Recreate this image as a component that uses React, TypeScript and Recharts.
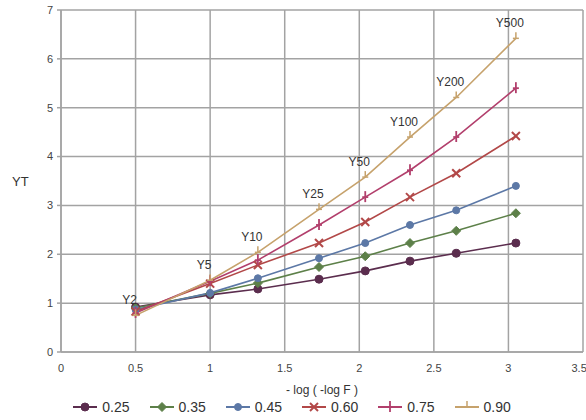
import { LineChart, Line, XAxis, YAxis, CartesianGrid, Legend, LabelList } from "recharts"

// -log(-log F) position of each return period
const xVals = [0.5, 1.0, 1.32, 1.73, 2.04, 2.34, 2.65, 3.05]
const periodLabels = ["Y2", "Y5", "Y10", "Y25", "Y50", "Y100", "Y200", "Y500"]

// YT for each skew coefficient
const s025 = [0.92, 1.17, 1.29, 1.49, 1.66, 1.86, 2.02, 2.23]
const s035 = [0.9, 1.2, 1.41, 1.74, 1.96, 2.23, 2.48, 2.84]
const s045 = [0.87, 1.21, 1.51, 1.92, 2.23, 2.6, 2.9, 3.4]
const s060 = [0.83, 1.4, 1.78, 2.23, 2.66, 3.17, 3.66, 4.42]
const s075 = [0.8, 1.45, 1.88, 2.6, 3.17, 3.72, 4.4, 5.4]
const s090 = [0.75, 1.47, 2.04, 2.92, 3.58, 4.4, 5.21, 6.42]

const xTicks = [0, 0.5, 1, 1.5, 2, 2.5, 3, 3.5]
const yTicks = [0, 1, 2, 3, 4, 5, 6, 7]

const data = xVals.map((x, i) => ({
  x,
  label: periodLabels[i],
  s025: s025[i],
  s035: s035[i],
  s045: s045[i],
  s060: s060[i],
  s075: s075[i],
  s090: s090[i],
}))

const SERIES = [
  { key: "s025", name: "0.25", color: "#5b2d4e", marker: "circle" },
  { key: "s035", name: "0.35", color: "#5d8049", marker: "diamond" },
  { key: "s045", name: "0.45", color: "#5c78a6", marker: "dot" },
  { key: "s060", name: "0.60", color: "#b24848", marker: "star" },
  { key: "s075", name: "0.75", color: "#b23f6c", marker: "plus" },
  { key: "s090", name: "0.90", color: "#c6a26c", marker: "tick" },
]

const FONT = '"Liberation Sans", Arial, Helvetica, sans-serif'
const GRID = "#a3a3a3"

function Marker({ kind, cx, cy, color }: { kind: string; cx: number; cy: number; color: string }) {
  if (kind === "circle") return <circle cx={cx} cy={cy} r={4} fill={color} stroke={color} />
  if (kind === "dot") return <circle cx={cx} cy={cy} r={3.5} fill={color} stroke={color} />
  if (kind === "diamond")
    return (
      <polygon
        points={`${cx},${cy - 4.5} ${cx + 4.5},${cy} ${cx},${cy + 4.5} ${cx - 4.5},${cy}`}
        fill={color}
        stroke={color}
      />
    )
  if (kind === "star")
    return (
      <g stroke={color} strokeWidth={2}>
        <line x1={cx - 4} y1={cy - 4} x2={cx + 4} y2={cy + 4} />
        <line x1={cx - 4} y1={cy + 4} x2={cx + 4} y2={cy - 4} />
      </g>
    )
  if (kind === "plus")
    return (
      <g stroke={color} strokeWidth={1.8}>
        <line x1={cx} y1={cy - 6} x2={cx} y2={cy + 5} />
        <line x1={cx - 3} y1={cy} x2={cx + 3} y2={cy} />
      </g>
    )
  return (
    <g stroke={color} strokeWidth={1.5}>
      <line x1={cx} y1={cy - 6} x2={cx} y2={cy} />
      <line x1={cx - 3} y1={cy} x2={cx + 3} y2={cy} />
    </g>
  )
}

function PeriodLabel(props: any) {
  const { x, y, value } = props
  return (
    <text x={x - 6} y={y - 15} textAnchor="middle" dominantBaseline="central" fontSize={12} fill="#333" fontFamily={FONT}>
      {value}
    </text>
  )
}

function LegendRow() {
  return (
    <div style={{ display: "flex", justifyContent: "center", gap: 19, height: 26, alignItems: "center", fontFamily: FONT, fontSize: 14, color: "#333" }}>
      {SERIES.map((s) => (
        <div key={s.key} style={{ display: "flex", alignItems: "center", gap: 4 }}>
          <svg width={26} height={14}>
            <line x1={1} y1={7} x2={25} y2={7} stroke={s.color} strokeWidth={2} />
            <Marker kind={s.marker} cx={13} cy={7} color={s.color} />
          </svg>
          <span>{s.name}</span>
        </div>
      ))}
    </div>
  )
}

export default function App() {
  return (
    <div style={{ position: "absolute", left: 0, top: 0, background: "#fff" }}>
      <LineChart width={586} height={420} data={data} margin={{ top: 10, right: 3, left: 0, bottom: 0 }}>
        <CartesianGrid stroke={GRID} strokeWidth={1.5} />
        <XAxis
          dataKey="x"
          type="number"
          domain={[0, 3.5]}
          ticks={xTicks}
          height={42}
          axisLine={{ stroke: GRID, strokeWidth: 1.5 }}
          tickLine={false}
          tickSize={0}
          tickMargin={12}
          tick={{ fontSize: 11, fill: "#444", fontFamily: FONT }}
          label={{ value: "- log ( -log F )", position: "insideBottom", offset: 0, fontSize: 12, fill: "#333", fontFamily: FONT }}
        />
        <YAxis
          type="number"
          domain={[0, 7]}
          ticks={yTicks}
          width={61}
          axisLine={{ stroke: GRID, strokeWidth: 1.5 }}
          tickLine={{ stroke: GRID, strokeWidth: 1.5 }}
          tickSize={4}
          tickMargin={4}
          tick={{ fontSize: 11, fill: "#444", fontFamily: FONT }}
          label={{ value: "YT", position: "insideLeft", offset: 12, fontSize: 13, fill: "#333", fontFamily: FONT }}
        />
        {SERIES.map((s) => (
          <Line
            key={s.key}
            dataKey={s.key}
            name={s.name}
            stroke={s.color}
            strokeWidth={1.6}
            isAnimationActive={false}
            dot={(p: any) => <Marker key={`${s.key}-${p.index}`} kind={s.marker} cx={p.cx} cy={p.cy} color={s.color} />}
            activeDot={false}
          >
            {s.key === "s090" && <LabelList dataKey="label" content={PeriodLabel} />}
          </Line>
        ))}
        <Legend verticalAlign="bottom" content={() => <LegendRow />} />
      </LineChart>
    </div>
  )
}
